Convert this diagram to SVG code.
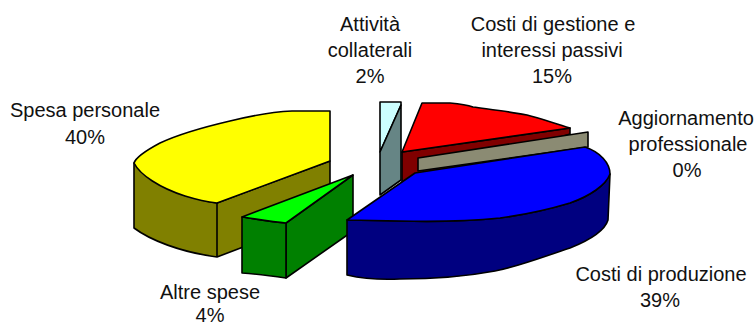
<svg xmlns="http://www.w3.org/2000/svg" width="756" height="327" viewBox="0 0 756 327">
<style>
.s{stroke:#000;stroke-width:1.6;stroke-linejoin:round}
.t{font-family:"Liberation Sans",Arial,sans-serif;font-size:20px;fill:#111;text-anchor:middle}
</style>
<rect width="756" height="327" fill="#fff"/>
<g id="slice-attivita">
<polygon class="s" fill="#CCFFFF" points="380,102 401,102 401,105 380,152"/>
<polygon class="s" fill="#668585" points="401,105 401,180 380,195 380,152"/>
</g>
<g id="slice-gestione">
<polygon class="s" fill="#800000" points="402,152 570,128 570,134 402,185"/>
<path class="s" fill="#FF0000" d="M422,103 L450,103 C460,104 467,105 473,107 C495,110 512,112 527,115 C540,118 553,123 570,128 L402,152 Z"/>
</g>
<g id="slice-aggiornamento">
<polygon class="s" fill="#8B8B73" points="418,158 588,132 588,147 418,171"/>
</g>
<g id="slice-spesa-personale">
<path class="s" fill="#808000" d="M134,163 L134,228 C150,240 180,252 217,257 L330,214 L330,161 L217,203 C190,199 155,185 134,163 Z"/>
<line class="s" x1="217" y1="203" x2="217" y2="257"/>
<path class="s" fill="#FFFF00" d="M330,111 L292,111 C270,112 250,116 230,121 C200,128 175,136 160,143 C145,151 136,157 134,163 C140,175 160,188 185,196 C198,200 208,202 217,203 L330,161 Z"/>
</g>
<g id="slice-altre-spese">
<polygon class="s" fill="#008000" points="286,223 353,175 353,231 286,278"/>
<path class="s" fill="#008000" d="M242,217 C256,219 272,222 286,223 L286,278 C272,276 256,274 242,273 Z"/>
<path class="s" fill="#00FF00" d="M242,217 L353,175 L286,223 C272,222 256,219 242,217 Z"/>
</g>
<g id="slice-produzione">
<path class="s" fill="#000080" d="M347,220 L347,275 C360,278 380,280 400,279 C430,279 463,277 495,271 C520,266 545,256 570,248 C590,240 605,230 608,220 L610,174 C606,185 590,196 570,203 C550,209 530,214 500,218 C470,221 440,222 400,221 Z"/>
<path class="s" fill="#0000FF" d="M347,220 L415,173 L585,147 C600,152 610,163 610,174 C606,185 590,196 570,203 C550,209 530,214 500,218 C470,221 440,222 400,221 Z"/>
</g>
<g id="labels">
<text class="t" x="85" y="117">Spesa personale</text>
<text class="t" x="85" y="144">40%</text>
<text class="t" x="370" y="31">Attività</text>
<text class="t" x="370" y="57">collaterali</text>
<text class="t" x="370" y="83">2%</text>
<text class="t" x="553" y="31">Costi di gestione e</text>
<text class="t" x="552" y="57">interessi passivi</text>
<text class="t" x="552" y="83">15%</text>
<text class="t" x="686" y="125">Aggiornamento</text>
<text class="t" x="688" y="151">professionale</text>
<text class="t" x="687" y="177">0%</text>
<text class="t" x="661" y="281">Costi di produzione</text>
<text class="t" x="660" y="307">39%</text>
<text class="t" x="210" y="299">Altre spese</text>
<text class="t" x="210" y="322">4%</text>
</g>
</svg>
